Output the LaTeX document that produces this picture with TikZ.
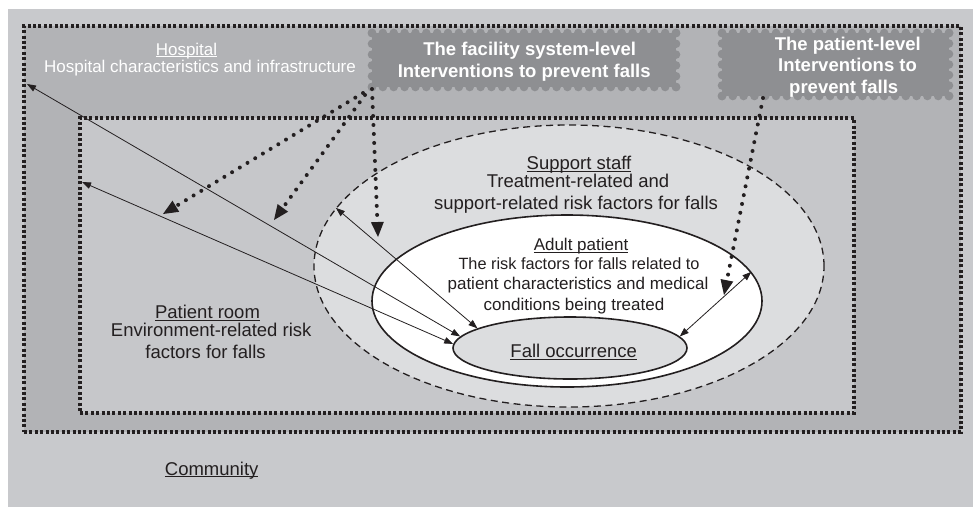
\documentclass[tikz,border=0pt]{standalone}
\usepackage{fontspec}
\setmainfont{Liberation Sans}
\usetikzlibrary{arrows.meta,shapes.geometric,calc,fit}

\definecolor{commgray}{RGB}{200,201,204}
\definecolor{hospgray}{RGB}{178,179,182}
\definecolor{roomgray}{RGB}{198,199,202}
\definecolor{staffgray}{RGB}{220,221,223}
\definecolor{stampgray}{RGB}{142,143,146}
\definecolor{ink}{RGB}{35,31,32}

% underline that sits close to the baseline (crosses descenders)
\newsavebox\ulinebox
\newcommand\undl[1]{\sbox\ulinebox{#1}\rlap{\rule[-2.3pt]{\wd\ulinebox}{1.1pt}}\usebox\ulinebox}

% grey "postage stamp" box with scalloped edges: name, x1, y1, x2, y2
\newcommand\stampbox[5]{%
  \node[fill=stampgray, inner sep=0pt, outer sep=0pt, fit={(#2,#3)(#4,#5)}] (#1) {};
  \pgfmathtruncatemacro\stnx{round((#4-#2)/11)}%
  \pgfmathsetmacro\stdx{(#4-#2)/\stnx}%
  \pgfmathtruncatemacro\stny{round((#5-#3)/11)}%
  \pgfmathsetmacro\stdy{(#5-#3)/\stny}%
  \foreach \i in {0,...,\stnx}{\fill[stampgray] (#2+\i*\stdx,#3) circle[radius=4.3pt] (#2+\i*\stdx,#5) circle[radius=4.3pt];}%
  \foreach \j in {0,...,\stny}{\fill[stampgray] (#2,#3+\j*\stdy) circle[radius=4.3pt] (#4,#3+\j*\stdy) circle[radius=4.3pt];}%
}

\tikzset{
  sqdots/.style={draw=ink, line width=3.2pt, dash pattern=on 3pt off 2.4pt},
  txt/.style={inner sep=0pt, anchor=base, text=ink, font=\fontsize{18.5}{22}\selectfont},
  smalltxt/.style={txt, font=\fontsize{17}{20}\selectfont},
  boldtxt/.style={inner sep=0pt, anchor=base, text=white, font=\bfseries\fontsize{18.5}{22}\selectfont},
  thinarr/.style={draw=ink, line width=0.8pt, <->, >={Triangle[length=9pt,width=6.5pt]}},
  dotarr/.style={draw=ink, line width=4pt, line cap=round, dash pattern=on 0pt off 9pt, -{Triangle[length=15pt,width=13pt,line width=0pt]}},
  oval/.style={ellipse, inner sep=0pt, draw=ink},
}

\begin{document}
\begin{tikzpicture}[x=1pt,y=-1pt]
\useasboundingbox (0,0) rectangle (973,507);
% community background
\fill[commgray] (8,9) rectangle (973,507);

% hospital and patient room
\node[fill=hospgray, sqdots, inner sep=0pt, outer sep=0pt, fit={(24,26)(961,432)}] (hospital) {};
\node[fill=roomgray, sqdots, inner sep=0pt, outer sep=0pt, fit={(80,118)(854,413)}] (room) {};

% nested ovals
\node[oval, fill=staffgray, line width=1.3pt, dash pattern=on 7pt off 4.5pt,
      minimum width=510pt, minimum height=282pt] (staff) at (569,266) {};
\node[oval, fill=white, line width=1.6pt, minimum width=390pt, minimum height=172pt] (adult) at (567,301) {};
\node[oval, fill=staffgray, line width=1.6pt, minimum width=234pt, minimum height=62pt] (fall) at (570,348) {};

% intervention boxes
\stampbox{fac}{372}{33}{676}{87}
\stampbox{pat}{722}{33}{949}{96}

% labels
\node[smalltxt, text=white] (hosp1) at (186.5,55) {\undl{Hospital}};
\node[smalltxt, text=white] (hosp2) at (200,72.7) {Hospital characteristics and infrastructure};

\node[boldtxt] (fac1) at (529.7,55) {The facility system-level};
\node[boldtxt] (fac2) at (524.2,77.7) {Interventions to prevent falls};

\node[boldtxt] (pat1) at (847.8,50) {The patient-level};
\node[boldtxt] (pat2) at (847.5,71.7) {Interventions to};
\node[boldtxt] (pat3) at (843.7,93.3) {prevent falls};

\node[txt] (st1) at (579,169.5) {\undl{Support staff}};
\node[txt] (st2) at (578,187) {Treatment-related and};
\node[txt] (st3) at (576,209.3) {support-related risk factors for falls};

\node[smalltxt] (ad1) at (581,250.7) {\undl{Adult patient}};
\node[smalltxt, font=\fontsize{16.3}{20}\selectfont] (ad2) at (579,269) {The risk factors for falls related to};
\node[smalltxt] (ad3) at (578,289.3) {patient characteristics and medical};
\node[smalltxt] (ad4) at (574,310) {conditions being treated};

\node[txt] (falltxt) at (573.7,357.3) {\undl{Fall occurrence}};

\node[txt] (rm1) at (207.5,318.3) {\undl{Patient room}};
\node[txt] (rm2) at (211.2,336.7) {Environment-related risk};
\node[txt] (rm3) at (205.5,358.3) {factors for falls};

\node[txt] (comm) at (211.7,475) {\undl{Community}};

% two-way links between the levels and the fall
\coordinate (hospL) at (27,84);
\coordinate (roomL) at (82,182);
\draw[thinarr] (hospL) -- (fall.174);
\draw[thinarr] (roomL) -- (fall.178);
\draw[thinarr] (staff.166) -- (fall.168);
\draw[thinarr] (adult.9) -- (fall.6);

% interventions acting on the levels
\coordinate (tipA) at (163,214);
\coordinate (tipB) at (274,220);
\coordinate (tipC) at (378,237);
\coordinate (tipD) at (724,295);
\draw[dotarr] ($(fac.south west)+(-9,6)$) -- (tipA);
\draw[dotarr] ($(fac.south west)+(-7,8)$) -- (tipB);
\draw[dotarr] ($(fac.south west)+(0,2)$) -- (tipC);
\draw[dotarr] ($(pat.south)+(-72.5,2)$) -- (tipD);
\end{tikzpicture}
\end{document}
